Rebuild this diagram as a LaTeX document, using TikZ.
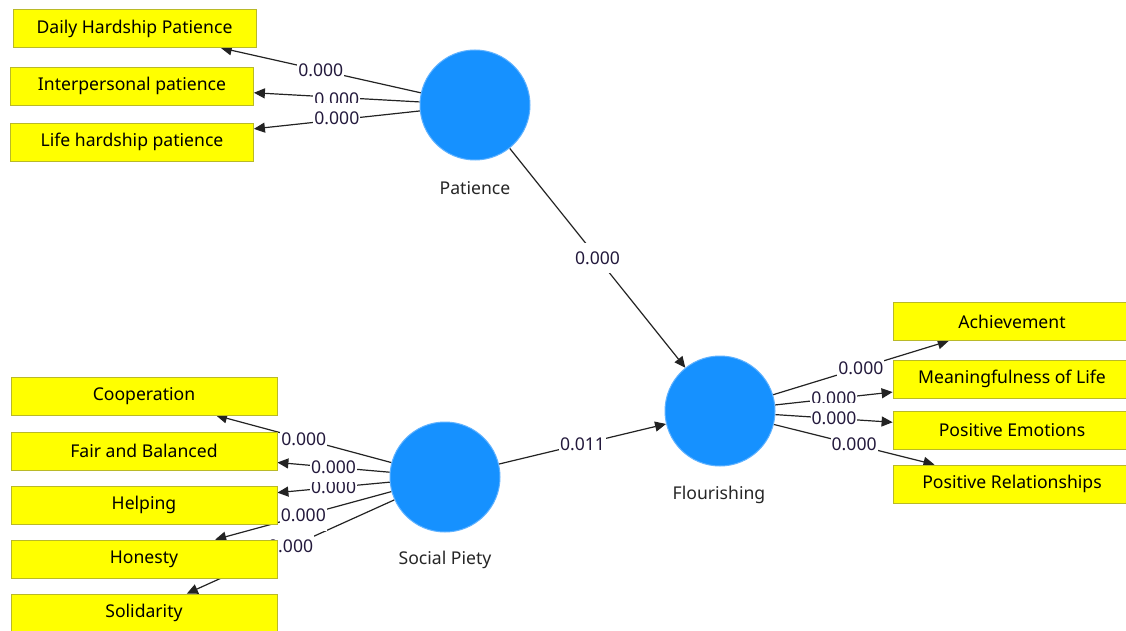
\documentclass[tikz,border=0pt]{standalone}
\usepackage{fontspec}
\setmainfont{Noto Sans}
\usetikzlibrary{arrows.meta}
\pgfdeclarelayer{bg}
\pgfdeclarelayer{edges}
\pgfsetlayers{bg,edges,main}
\definecolor{lvfill}{RGB}{22,145,255}
\definecolor{lvborder}{RGB}{95,178,255}
\definecolor{indfill}{RGB}{255,255,0}
\definecolor{indborder}{RGB}{185,185,40}
\definecolor{edgecol}{RGB}{35,35,35}
\definecolor{lbltxt}{RGB}{35,25,60}
\begin{document}
\begin{tikzpicture}[x=1pt,y=-1pt,
  font=\fontsize{17.6}{21}\selectfont,
  latent/.style={circle,fill=lvfill,draw=lvborder,line width=1pt,minimum size=110pt,inner sep=0pt},
  indbox/.style={rectangle,fill=indfill,draw=indborder,line width=0.8pt,minimum height=38pt,inner sep=0pt},
  indA/.style={indbox,minimum width=243pt},
  indB/.style={indbox,minimum width=266pt},
  indC/.style={indbox,minimum width=238pt},
  conn/.style={draw=edgecol,line width=1.2pt,-{Triangle[length=11pt,width=10pt]}},
  wt/.style={fill=white,inner xsep=1pt,inner ysep=8.5pt,text=lbltxt},
  wtlow/.style={wt,inner ysep=3pt,text depth=5.5pt,yshift=-2.75pt},
  wtsmall/.style={wt,inner ysep=3pt},
  lvname/.style={text=black!85}]
\begin{pgfonlayer}{bg}
\fill[white] (0,0) rectangle (1126,631);
\end{pgfonlayer}
\useasboundingbox (0,0) rectangle (1126,631);

% latent variables
\node[latent] (pat) at (475,105) {};
\node[latent] (sp) at (445,477) {};
\node[latent] (fl) at (720,411) {};
\node[lvname] (patl) at (475,188) {Patience};
\node[lvname] (spl) at (445,560) {Social Piety};
\node[lvname] (fll) at (719,495) {Flourishing};

% indicators
\node[indA] (dhp) at (134.5,28.5) {Daily Hardship Patience};
\node[indA] (ip) at (132,86) {Interpersonal patience};
\node[indA] (lhp) at (132,142) {Life hardship patience};
\node[indB] (coop) at (144,396) {Cooperation};
\node[indB] (fair) at (144,451) {Fair and Balanced};
\node[indB] (help) at (144,505) {Helping};
\node[indB] (hon) at (144,559) {Honesty};
\node[indB] (sol) at (144,613) {Solidarity};
\node[indC] (ach) at (1012,321.5) {Achievement};
\node[indC] (mean) at (1012,379) {Meaningfulness of Life};
\node[indC] (pe) at (1012,430) {Positive Emotions};
\node[indC] (pr) at (1012,484) {Positive Relationships};

\begin{pgfonlayer}{edges}
  % connectors
  \draw[conn] (pat) -- (dhp);
  \draw[conn] (pat) -- (ip);
  \draw[conn] (pat) -- (lhp);
  \draw[conn] (sp) -- (coop);
  \draw[conn] (sp) -- (fair);
  \draw[conn] (sp) -- (help);
  \draw[conn] (sp) -- (hon);
  \draw[conn] (sp) -- (sol);
  \draw[conn] (fl) -- (ach);
  \draw[conn] (fl) -- (mean);
  \draw[conn] (fl) -- (pe);
  \draw[conn] (fl) -- (pr);
  \draw[conn] (pat) -- (fl);
  \draw[conn] (sp) -- (fl);
  % weights
  \path (pat) -- (dhp) node[midway,wt] (w1) {0.000};
  \path (pat) -- (ip) node[midway,wt,yshift=-1.5pt] (w2) {0.000};
  \path (pat) -- (lhp) node[midway,wt,yshift=1.5pt] (w3) {0.000};
  \path (sp) -- (coop) node[midway,wt] (w4) {0.000};
  \path (sp) -- (help) node[midway,wtsmall] (w6) {0.000};
  \path (sp) -- (fair) node[midway,wtlow] (w5) {0.000};
  \path (sp) -- (hon) node[midway,wt] (w7) {0.000};
  \path (sp) -- (sol) node[midway,wt] (w8) {0.000};
  \path (fl) -- (ach) node[midway,wt] (w9) {0.000};
  \path (fl) -- (mean) node[midway,wt] (w10) {0.000};
  \path (fl) -- (pe) node[midway,wt] (w11) {0.000};
  \path (fl) -- (pr) node[midway,wt] (w12) {0.000};
  \path (pat) -- (fl) node[midway,wt] (w13) {0.000};
  \path (sp) -- (fl) node[midway,wt] (w14) {0.011};
\end{pgfonlayer}
\end{tikzpicture}
\end{document}
